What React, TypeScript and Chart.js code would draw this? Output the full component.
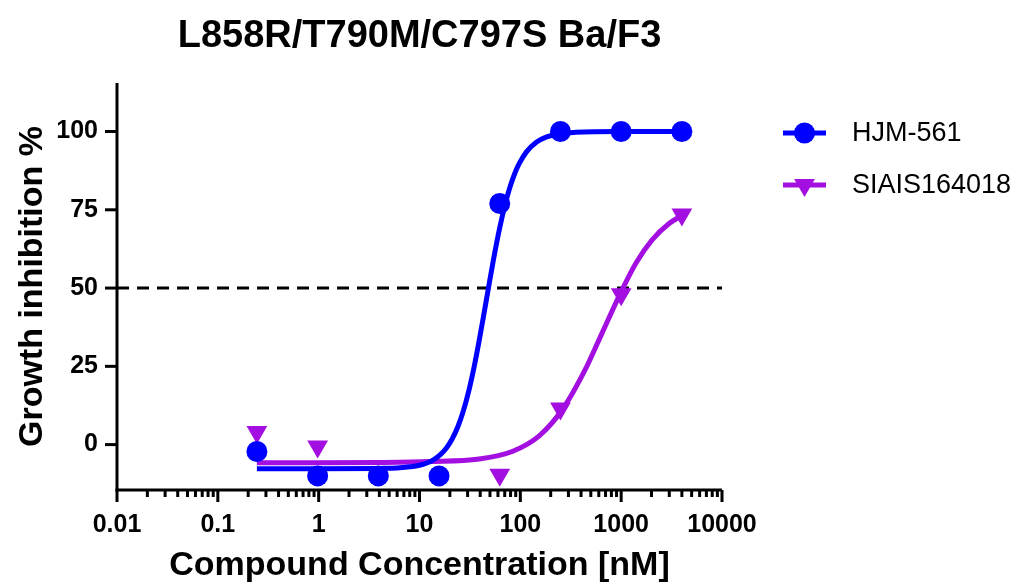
import React, { useEffect, useRef } from 'react';
import { Chart, registerables } from 'chart.js';

Chart.register(...registerables);

const chartTitle = 'L858R/T790M/C797S Ba/F3';
const xAxisTitle = 'Compound Concentration [nM]';
const yAxisTitle = 'Growth inhibition %';
const seriesNames = ['HJM-561', 'SIAIS164018'];

// measured points
const concentrations = [0.244, 0.977, 3.906, 15.625, 62.5, 250, 1000, 4000];
const hjmValues = [-2.2, -10, -10, -10, 77, 100, 100, 100];
const siaisValues = [4, -0.6, null, null, -9.6, 11.5, 48, 73.5];

// fitted curves
const hjmFitX = [0.244, 1, 4, 6, 8, 10, 12, 14, 16, 18.5, 21, 24, 27, 31, 35, 39, 43, 48, 54, 62, 70, 78, 88, 98, 115, 144, 180, 243, 350, 1000, 4000];
const hjmFitY = [-7.7, -7.7, -7.6, -7.5, -7.1, -6.6, -5.8, -4.7, -3.3, -1.1, 1.7, 5.7, 10.4, 17.5, 25.2, 33.1, 40.7, 49.6, 58.9, 68.8, 76.2, 81.7, 86.6, 89.9, 93.5, 96.6, 98.2, 99.3, 99.75, 100, 100];
const siaisFitX = [0.244, 1, 4, 12.6, 39, 83, 154, 261, 450, 648, 1023, 1409, 2029, 2987, 4000];
const siaisFitY = [-5.8, -5.8, -5.7, -5.4, -4.6, -2.2, 2.8, 11.2, 24.6, 35.7, 49.5, 58.1, 65.4, 70.6, 73.2];

const referenceLevel = 50;
const xRange = [0.01, 10000];
const yRange = [-14.5, 115.5];
const xMajorTicks = [0.01, 0.1, 1, 10, 100, 1000, 10000];
const xTickLabels = ['0.01', '0.1', '1', '10', '100', '1000', '10000'];
const xMinorMultipliers = [2, 3, 4, 5, 6, 7, 8, 9];
const yTickValues = [0, 25, 50, 75, 100];
const yTickLabels = ['0', '25', '50', '75', '100'];

const BLUE = '#0000FF';
const PURPLE = '#A30FE0';
const FONT = "'Liberation Sans', Arial, sans-serif";

function toPoints(xs: number[], ys: (number | null)[]) {
  return xs.map((x, i) => ({ x, y: ys[i] }));
}

const customAxesPlugin = {
  id: 'customAxes',
  afterDraw(chart: any) {
    const { ctx, chartArea, scales } = chart;
    const x = scales.x;
    const y = scales.y;
    ctx.save();
    ctx.strokeStyle = '#000';
    ctx.lineWidth = 3;
    ctx.lineCap = 'butt';
    const line = (x1: number, y1: number, x2: number, y2: number) => {
      ctx.beginPath();
      ctx.moveTo(x1, y1);
      ctx.lineTo(x2, y2);
      ctx.stroke();
    };
    const L = chartArea.left;
    const B = chartArea.bottom;
    line(L, chartArea.top, L, B + 1.5);
    line(L - 1.5, B, chartArea.right, B);
    xMajorTicks.forEach((v) => {
      const px = x.getPixelForValue(v);
      line(px, B, px, B + 12);
    });
    xMajorTicks.slice(0, -1).forEach((d) => {
      xMinorMultipliers.forEach((m) => {
        const px = x.getPixelForValue(d * m);
        line(px, B, px, B + 7);
      });
    });
    yTickValues.forEach((v) => {
      const py = y.getPixelForValue(v);
      line(L - 12, py, L, py);
    });

    const items = [
      { label: seriesNames[0], color: BLUE, shape: 'circle', cy: 133 },
      { label: seriesNames[1], color: PURPLE, shape: 'triangle', cy: 185 },
    ];
    items.forEach((it) => {
      ctx.strokeStyle = it.color;
      ctx.fillStyle = it.color;
      ctx.lineWidth = 5;
      line(783, it.cy, 826, it.cy);
      ctx.beginPath();
      if (it.shape === 'circle') {
        ctx.arc(804.5, it.cy, 10.5, 0, Math.PI * 2);
      } else {
        const r = 12;
        ctx.moveTo(804.5 - r * 0.866, it.cy - r * 0.5);
        ctx.lineTo(804.5 + r * 0.866, it.cy - r * 0.5);
        ctx.lineTo(804.5, it.cy + r);
        ctx.closePath();
      }
      ctx.fill();
      ctx.fillStyle = '#000';
      ctx.font = `27px ${FONT}`;
      ctx.textAlign = 'left';
      ctx.textBaseline = 'middle';
      ctx.fillText(it.label, 852, it.cy + 1);
    });
    ctx.restore();
  },
};

export default function App() {
  const ref = useRef<HTMLCanvasElement | null>(null);
  useEffect(() => {
    if (!ref.current) return;
    const chart = new Chart(ref.current, {
      type: 'scatter',
      data: {
        datasets: [
          {
            label: seriesNames[0],
            data: toPoints(concentrations, hjmValues),
            showLine: false,
            pointStyle: 'circle',
            pointRadius: 10.5,
            pointBackgroundColor: BLUE,
            pointBorderWidth: 0,
            borderColor: BLUE,
            backgroundColor: BLUE,
          },
          {
            label: seriesNames[1],
            data: toPoints(concentrations, siaisValues),
            showLine: false,
            pointStyle: 'triangle',
            rotation: 180,
            pointRadius: 12,
            pointBackgroundColor: PURPLE,
            pointBorderWidth: 0,
            borderColor: PURPLE,
            backgroundColor: PURPLE,
          },
          {
            label: seriesNames[0] + ' fit',
            data: toPoints(hjmFitX, hjmFitY),
            showLine: true,
            pointRadius: 0,
            borderColor: BLUE,
            borderWidth: 5,
            cubicInterpolationMode: 'monotone',
            fill: false,
          },
          {
            label: seriesNames[1] + ' fit',
            data: toPoints(siaisFitX, siaisFitY),
            showLine: true,
            pointRadius: 0,
            borderColor: PURPLE,
            borderWidth: 5,
            cubicInterpolationMode: 'monotone',
            fill: false,
          },
          {
            label: 'IC50 level',
            data: [
              { x: xRange[0], y: referenceLevel },
              { x: xRange[1], y: referenceLevel },
            ],
            showLine: true,
            pointRadius: 0,
            borderColor: '#000',
            borderWidth: 3,
            borderDash: [12, 8],
            fill: false,
          },
        ],
      } as any,
      options: {
        animation: false,
        responsive: false,
        maintainAspectRatio: false,
        layout: { padding: { left: 0, right: 297, top: 0, bottom: 0 } },
        plugins: {
          legend: { display: false },
          tooltip: { enabled: false },
          title: {
            display: true,
            text: chartTitle,
            fullSize: false,
            color: '#000',
            font: { family: FONT, size: 38, weight: 'bold', lineHeight: 1.2 },
            padding: { top: 14, bottom: 23.4 },
          },
        },
        scales: {
          x: {
            type: 'logarithmic',
            min: xRange[0],
            max: xRange[1],
            afterBuildTicks: (scale: any) => {
              scale.ticks = xMajorTicks.map((v) => ({ value: v }));
            },
            afterFit: (scale: any) => {
              scale.height = 97;
            },
            grid: { display: false, drawTicks: false },
            border: { display: false },
            ticks: {
              autoSkip: false,
              maxRotation: 0,
              minRotation: 0,
              padding: 20,
              color: '#000',
              font: { family: FONT, size: 25, weight: 'bold' },
              callback: (_v: any, i: number) => xTickLabels[i],
            },
            title: {
              display: true,
              text: xAxisTitle,
              color: '#000',
              font: { family: FONT, size: 34, weight: 'bold', lineHeight: 1.2 },
              padding: { top: 0, bottom: 0.6 },
            },
          },
          y: {
            type: 'linear',
            min: yRange[0],
            max: yRange[1],
            afterBuildTicks: (scale: any) => {
              scale.ticks = yTickValues.map((v) => ({ value: v }));
            },
            afterFit: (scale: any) => {
              scale.width = 117;
            },
            grid: { display: false, drawTicks: false },
            border: { display: false },
            ticks: {
              padding: 19,
              color: '#000',
              font: { family: FONT, size: 25, weight: 'bold' },
              callback: (_v: any, i: number) => yTickLabels[i],
            },
            title: {
              display: true,
              text: yAxisTitle,
              color: '#000',
              font: { family: FONT, size: 34, weight: 'bold', lineHeight: 1.2 },
              padding: { top: 12.6, bottom: 0 },
            },
          },
        },
      } as any,
      plugins: [customAxesPlugin],
    });
    return () => chart.destroy();
  }, []);

  return (
    <div style={{ position: 'absolute', left: 0, top: 0, width: 1019, height: 587, background: '#fff' }}>
      <canvas ref={ref} width={1019} height={587} />
    </div>
  );
}
